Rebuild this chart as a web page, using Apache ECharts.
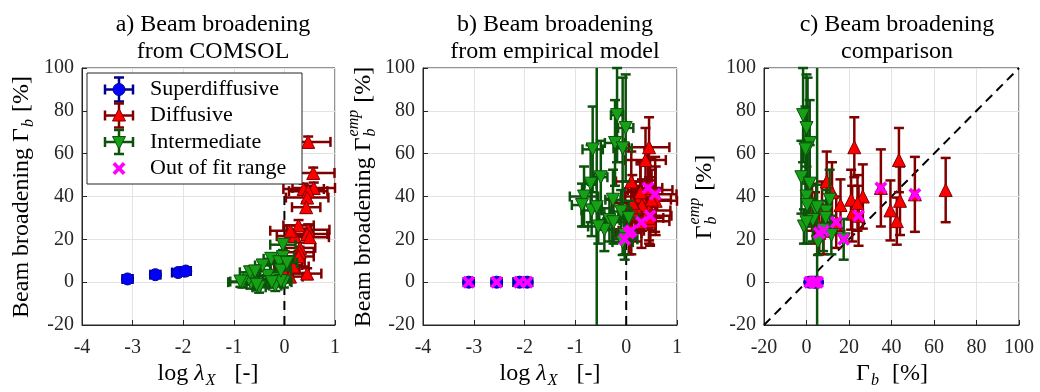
<!DOCTYPE html>
<html>
<head>
<meta charset="utf-8">
<script src="https://cdn.jsdelivr.net/npm/echarts@6/dist/echarts.min.js"></script>
<style>html,body{margin:0;padding:0;background:#fff}#c{width:1040px;height:392px}</style>
</head>
<body>
<div id="c"></div>
<script>
// ---------------- DATA ----------------
// Superdiffusive
const supLogLam    = [-3.1, -2.55, -2.1, -1.95];
const supLogLamErr = [0.1, 0.1, 0.12, 0.1];
const supGb        = [1.5, 3.5, 4.5, 5.2];
const supGbErr     = [1.2, 1.2, 1.2, 1.2];
const supGemp      = [0, 0, 0, 0];
const supGempErr   = [0, 0, 0, 0];
const supOut       = [1, 1, 1, 1];

// Diffusive
const difLogLam    = [0.47, 0.57, 0.58, 0.38, 0.47, 0.45, 0.43, 0.28, 0.47, 0.45, 0.50, 0.20, 0.31, 0.30, 0.28, 0.10, 0.10, 0.05, 0.18, 0.11, 0.45, 0.12];
const difLogLamErr = [0.44, 0.42, 0.42, 0.40, 0.38, 0.42, 0.28, 0.30, 0.42, 0.40, 0.38, 0.35, 0.30, 0.28, 0.30, 0.30, 0.25, 0.25, 0.30, 0.25, 0.28, 0.40];
const difGb        = [65.5, 51, 44, 43.5, 42.5, 39.5, 35, 26.5, 24.5, 22.5, 21, 21.5, 16, 14, 12, 9.5, 8, 6, 7.3, 2.6, 4, 24];
const difGbErr     = [2.5, 2.5, 2.5, 2.5, 2.5, 2.5, 2.5, 2.5, 2.5, 2.5, 2.5, 2.5, 2.5, 2.5, 2.5, 2.5, 2.5, 2.5, 2.5, 2.5, 2.5, 2.5];
const difGemp      = [43, 41, 38, 57, 28.5, 33.5, 44, 40, 31, 63, 38.5, 32, 36, 28, 42, 47, 24, 23, 35, 35, 30, 37];
const difGempErr   = [15, 17.5, 16, 15, 11, 14, 18, 15, 14, 14, 14, 13, 12, 12, 14, 14, 11, 10, 12, 11, 12, 13];
const difOut       = [0, 1, 0, 0, 0, 0, 1, 0, 1, 0, 0, 0, 0, 1, 0, 0, 1, 1, 0, 0, 0, 0];

// Intermediate
const intLogLam    = [-0.18, -0.01, -0.22, -0.07, -0.66, -0.50, -0.70, -0.83, -0.68, -0.26, -0.33, -0.43, -0.03, -0.10, -0.03, -0.58, -0.07, -0.55, -0.87, -0.25, 0.05];
const intLogLamErr = [0.12, 0.15, 0.20, 0.18, 0.20, 0.13, 0.12, 0.28, 0.20, 0.15, 0.20, 0.15, 0.22, 0.20, 0.25, 0.10, 0.20, 0.20, 0.20, 0.20, 0.20];
const intGb        = [-1.6, 0, 1.5, 0.5, -0.5, -2.4, 1.5, 0, 4.6, 10.9, 3, 7.8, 11.7, 9.3, 17.5, 5, 5.4, -1.2, 0.3, 0, 9];
const intGbErr     = [2.5, 2.5, 2.5, 2.5, 2.5, 2.5, 2.5, 2.5, 2.5, 2.5, 2.5, 2.5, 2.5, 2.5, 2.5, 2.5, 2.5, 2.5, 2.5, 2.5, 2.5];
const intGemp      = [78, 72, 65, 62.5, 62, 49, 46, 40, 33.5, 38.5, 29, 24.5, 22, 33, 20, 35, 18.7, 26, 36, 28, 30];
const intGempErr   = [22, 25, 20, 33, 20, 17, 18, 14, 12, 14, 10, 10, 9, 10, 9.5, 200, 6, 8, 10, 10, 8];
const intOut       = [0, 0, 0, 0, 0, 0, 0, 0, 0, 0, 0, 0, 0, 0, 1, 0, 0, 0, 0, 0, 0];

// reference lines
const refVertA = [[0, -20], [0, 42]];
const refVertB = [[0, -20], [0, 20]];
const refDiag  = [[-20, -20], [100, 100]];

// axes ticks
const xTicksLog = { min: -4, max: 1, interval: 1 };
const xTicksGb  = { min: -20, max: 100, interval: 20 };
const yTicks    = { min: -20, max: 100, interval: 20 };

// -------------- STYLE -----------------
const FONT = "'Liberation Serif', 'Times New Roman', serif";
const C = {
  supFill: '#0000ff', supBar: '#00008b',
  difFill: '#ff0000', difBar: '#800000',
  intFill: '#16a016', intBar: '#0b520b',
  out: '#ff00ff', axis: '#262626', grid: '#e3e3e3'
};
const CAP = 5, LW = 2.5;

const chart = echarts.init(document.getElementById('c'), null, { renderer: 'canvas' });

function makeErrRender(color) {
  return function (params, api) {
    const cs = params.coordSys;
    const L = cs.x, R = cs.x + cs.width, T = cs.y, B = cs.y + cs.height;
    const x = api.value(0), y = api.value(1), xe = api.value(2), ye = api.value(3);
    const c = api.coord([x, y]);
    const kids = [];
    const st = { stroke: color, lineWidth: LW };
    const seg = (x1, y1, x2, y2) => kids.push({ type: 'line', shape: { x1, y1, x2, y2 }, style: st });
    if (xe > 0 && c[1] >= T && c[1] <= B) {
      const a = api.coord([x - xe, y])[0], b = api.coord([x + xe, y])[0];
      seg(Math.max(a, L), c[1], Math.min(b, R), c[1]);
      if (a >= L) seg(a, c[1] - CAP, a, c[1] + CAP);
      if (b <= R) seg(b, c[1] - CAP, b, c[1] + CAP);
    }
    if (ye >= 0 && c[0] >= L && c[0] <= R) {
      const top = api.coord([x, y + ye])[1], bot = api.coord([x, y - ye])[1];
      if (ye > 0) seg(c[0], Math.max(top, T), c[0], Math.min(bot, B));
      if (top >= T && top <= B) seg(c[0] - CAP, top, c[0] + CAP, top);
      if (bot <= B && bot >= T) seg(c[0] - CAP, bot, c[0] + CAP, bot);
    }
    return { type: 'group', children: kids };
  };
}

const X_PATH = 'path://M0,2 L2,0 L5,3 L8,0 L10,2 L7,5 L10,8 L8,10 L5,7 L2,10 L0,8 L3,5 Z';

const groups = [
  { name: 'Superdiffusive', l: supLogLam, le: supLogLamErr, gb: supGb, gbe: supGbErr, ge: supGemp, gee: supGempErr, out: supOut,
    bar: C.supBar, fill: C.supFill, symbol: 'circle', size: 12, rot: 0 },
  { name: 'Diffusive', l: difLogLam, le: difLogLamErr, gb: difGb, gbe: difGbErr, ge: difGemp, gee: difGempErr, out: difOut,
    bar: C.difBar, fill: C.difFill, symbol: 'triangle', size: 13, rot: 0 },
  { name: 'Intermediate', l: intLogLam, le: intLogLamErr, gb: intGb, gbe: intGbErr, ge: intGemp, gee: intGempErr, out: intOut,
    bar: C.intBar, fill: C.intFill, symbol: 'triangle', size: 13, rot: 180 }
];

const panels = [
  { xf: 'l', yf: 'gb', xe: 'le', ye: 'gbe', showOut: false },
  { xf: 'l', yf: 'ge', xe: 'le', ye: 'gee', showOut: true },
  { xf: 'gb', yf: 'ge', xe: null, ye: 'gee', showOut: true }
];

const series = [];
let z = 2;
panels.forEach((p, pi) => {
  const outPts = [];
  groups.forEach(g => {
    const errData = g.l.map((_, i) => [g[p.xf][i], g[p.yf][i], p.xe ? g[p.xe][i] : 0, g[p.ye][i]]);
    const ptData = g.l.map((_, i) => [g[p.xf][i], g[p.yf][i]]);
    g.l.forEach((_, i) => { if (g.out[i]) outPts.push([g[p.xf][i], g[p.yf][i]]); });
    series.push({ type: 'custom', name: g.name + ' err', xAxisIndex: pi, yAxisIndex: pi, data: errData,
      renderItem: makeErrRender(g.bar), z: z++, silent: true, animation: false });
    series.push({ type: 'scatter', name: g.name, xAxisIndex: pi, yAxisIndex: pi, data: ptData,
      symbol: g.symbol, symbolSize: g.size, symbolRotate: g.rot, z: z++, silent: true, animation: false,
      itemStyle: { color: g.fill, borderColor: g.bar, borderWidth: 1, opacity: 1 } });
  });
  if (p.showOut) {
    series.push({ type: 'scatter', name: 'Out of fit range', xAxisIndex: pi, yAxisIndex: pi, data: outPts,
      symbol: X_PATH, symbolSize: 13, z: z++, silent: true, animation: false,
      itemStyle: { color: C.out, opacity: 1 } });
  }
});
const dashStyle = { type: [9, 6], color: '#000', width: 2 };
[[refVertA, 0], [refVertB, 1], [refDiag, 2]].forEach(([d, pi]) => {
  series.push({ type: 'line', xAxisIndex: pi, yAxisIndex: pi, data: d, symbol: 'none', z: 1, silent: true,
    animation: false, lineStyle: dashStyle });
});

const grids = [
  { left: 82, top: 68, width: 253, height: 257 },
  { left: 423, top: 68, width: 254, height: 257 },
  { left: 764, top: 68, width: 255, height: 257 }
].map(g => Object.assign(g, { show: true, borderColor: C.axis, borderWidth: 1, backgroundColor: 'transparent', containLabel: false }));

function axisCommon(ticks, gi, isX) {
  return Object.assign({
    type: 'value', gridIndex: gi,
    axisLine: { show: true, onZero: false, lineStyle: { color: C.axis, width: 1 } },
    axisTick: { show: true, inside: true, length: 5, lineStyle: { color: C.axis, width: 1 } },
    axisLabel: { fontFamily: FONT, fontSize: 20, color: C.axis, margin: isX ? 13 : 8, showMinLabel: true, showMaxLabel: true },
    splitLine: { show: true, lineStyle: { color: C.grid, width: 1 } }
  }, ticks);
}

const xAxis = [axisCommon(xTicksLog, 0, true), axisCommon(xTicksLog, 1, true), axisCommon(xTicksGb, 2, true)];
const yAxis = [axisCommon(yTicks, 0, false), axisCommon(yTicks, 1, false), axisCommon(yTicks, 2, false)];

// ---------- text labels with sub/superscripts ----------
const mctx = document.createElement('canvas').getContext('2d');
const F_N = "24px " + FONT, F_I = "italic 24px " + FONT, F_S = "italic 16px " + FONT;
function measure(t, f) { mctx.font = f; return mctx.measureText(t).width; }
function buildLabel(parts, cx, cy, rot) {
  let x = 0; const items = [];
  parts.forEach(p => {
    if (p.k === 'stack') {
      const w1 = measure(p.sup, F_S), w2 = measure(p.sub, F_S);
      items.push({ t: p.sup, x: x + 1, dy: -10, f: F_S });
      items.push({ t: p.sub, x: x + 1, dy: 7, f: F_S });
      x += Math.max(w1, w2) + 2;
    } else {
      const f = p.k === 'n' ? F_N : (p.k === 'i' ? F_I : F_S);
      items.push({ t: p.t, x: x + (p.k === 'sub' ? 1 : 0), dy: p.k === 'sub' ? 7 : 0, f });
      x += measure(p.t, f) + (p.k === 'sub' ? 2 : 0);
    }
  });
  const W = x;
  return { type: 'group', x: cx, y: cy, rotation: rot || 0,
    children: items.map(it => ({ type: 'text', x: it.x - W / 2, y: it.dy, z: 50,
      style: { text: it.t, font: it.f, fill: '#000', verticalAlign: 'middle', align: 'left' } })) };
}

const graphics = [
  buildLabel([{ k: 'n', t: 'Beam broadening Γ' }, { k: 'sub', t: 'b' }, { k: 'n', t: ' [%]' }], 22, 197, Math.PI / 2),
  buildLabel([{ k: 'n', t: 'Beam broadening Γ' }, { k: 'stack', sup: 'emp', sub: 'b' }, { k: 'n', t: ' [%]' }], 364, 197, Math.PI / 2),
  buildLabel([{ k: 'n', t: 'Γ' }, { k: 'stack', sup: 'emp', sub: 'b' }, { k: 'n', t: ' [%]' }], 705, 197, Math.PI / 2),
  buildLabel([{ k: 'n', t: 'log ' }, { k: 'i', t: 'λ' }, { k: 'sub', t: 'X' }, { k: 'n', t: '   [-]' }], 208, 374, 0),
  buildLabel([{ k: 'n', t: 'log ' }, { k: 'i', t: 'λ' }, { k: 'sub', t: 'X' }, { k: 'n', t: '   [-]' }], 550, 374, 0),
  buildLabel([{ k: 'n', t: 'Γ' }, { k: 'sub', t: 'b' }, { k: 'n', t: '  [%]' }], 892, 374, 0)
];

// ---------- legend (panel a) ----------
const legendItems = ['Superdiffusive', 'Diffusive', 'Intermediate', 'Out of fit range'];
const LX = 119, LYs = [89.5, 115.5, 142, 168.5];
const LZ = 200;
const leg = [{ type: 'rect', z: LZ, shape: { x: 87, y: 73, width: 215, height: 111 }, style: { fill: '#fff', stroke: C.axis, lineWidth: 1 } }];
legendItems.forEach((name, i) => {
  const y = LYs[i];
  if (i < 3) {
    const g = groups[i]; const st = { stroke: g.bar, lineWidth: LW };
    const ln = (x1, y1, x2, y2) => leg.push({ type: 'line', z: LZ + 1, shape: { x1, y1, x2, y2 }, style: st });
    ln(LX - 14, y, LX + 14, y);
    ln(LX - 14, y - CAP, LX - 14, y + CAP);
    ln(LX + 14, y - CAP, LX + 14, y + CAP);
    ln(LX, y - 12, LX, y + 12);
    ln(LX - CAP, y - 12, LX + CAP, y - 12);
    ln(LX - CAP, y + 12, LX + CAP, y + 12);
    const ms = { fill: g.fill, stroke: g.bar, lineWidth: 1 };
    if (i === 0) leg.push({ type: 'circle', z: LZ + 2, shape: { cx: LX, cy: y, r: 6 }, style: ms });
    else if (i === 1) leg.push({ type: 'polygon', z: LZ + 2, shape: { points: [[LX, y - 7], [LX + 6.5, y + 5.5], [LX - 6.5, y + 5.5]] }, style: ms });
    else leg.push({ type: 'polygon', z: LZ + 2, shape: { points: [[LX, y + 7], [LX + 6.5, y - 5.5], [LX - 6.5, y - 5.5]] }, style: ms });
  } else {
    const pts = [[0,2],[2,0],[5,3],[8,0],[10,2],[7,5],[10,8],[8,10],[5,7],[2,10],[0,8],[3,5]].map(p => [LX - 6.5 + p[0] * 1.3, y - 6.5 + p[1] * 1.3]);
    leg.push({ type: 'polygon', z: LZ + 2, shape: { points: pts }, style: { fill: C.out } });
  }
  leg.push({ type: 'text', z: LZ + 2, x: 150, y: y, style: { text: name, font: "22px " + FONT, fill: '#000', verticalAlign: 'middle', align: 'left' } });
});
leg.forEach(e => graphics.push(e));

const titleStyle = { fontFamily: FONT, fontSize: 24, fontWeight: 'normal', color: '#000', lineHeight: 27 };
const option = {
  backgroundColor: '#fff',
  animation: false,
  title: [
    { text: 'a) Beam broadening\nfrom COMSOL', left: 208, top: 6, textAlign: 'center', textStyle: titleStyle },
    { text: 'b) Beam broadening\nfrom empirical model', left: 550, top: 6, textAlign: 'center', textStyle: titleStyle },
    { text: 'c) Beam broadening\ncomparison', left: 892, top: 6, textAlign: 'center', textStyle: titleStyle }
  ],
  grid: grids, xAxis, yAxis, series, graphic: graphics
};
chart.setOption(option);
</script>
</body>
</html>
